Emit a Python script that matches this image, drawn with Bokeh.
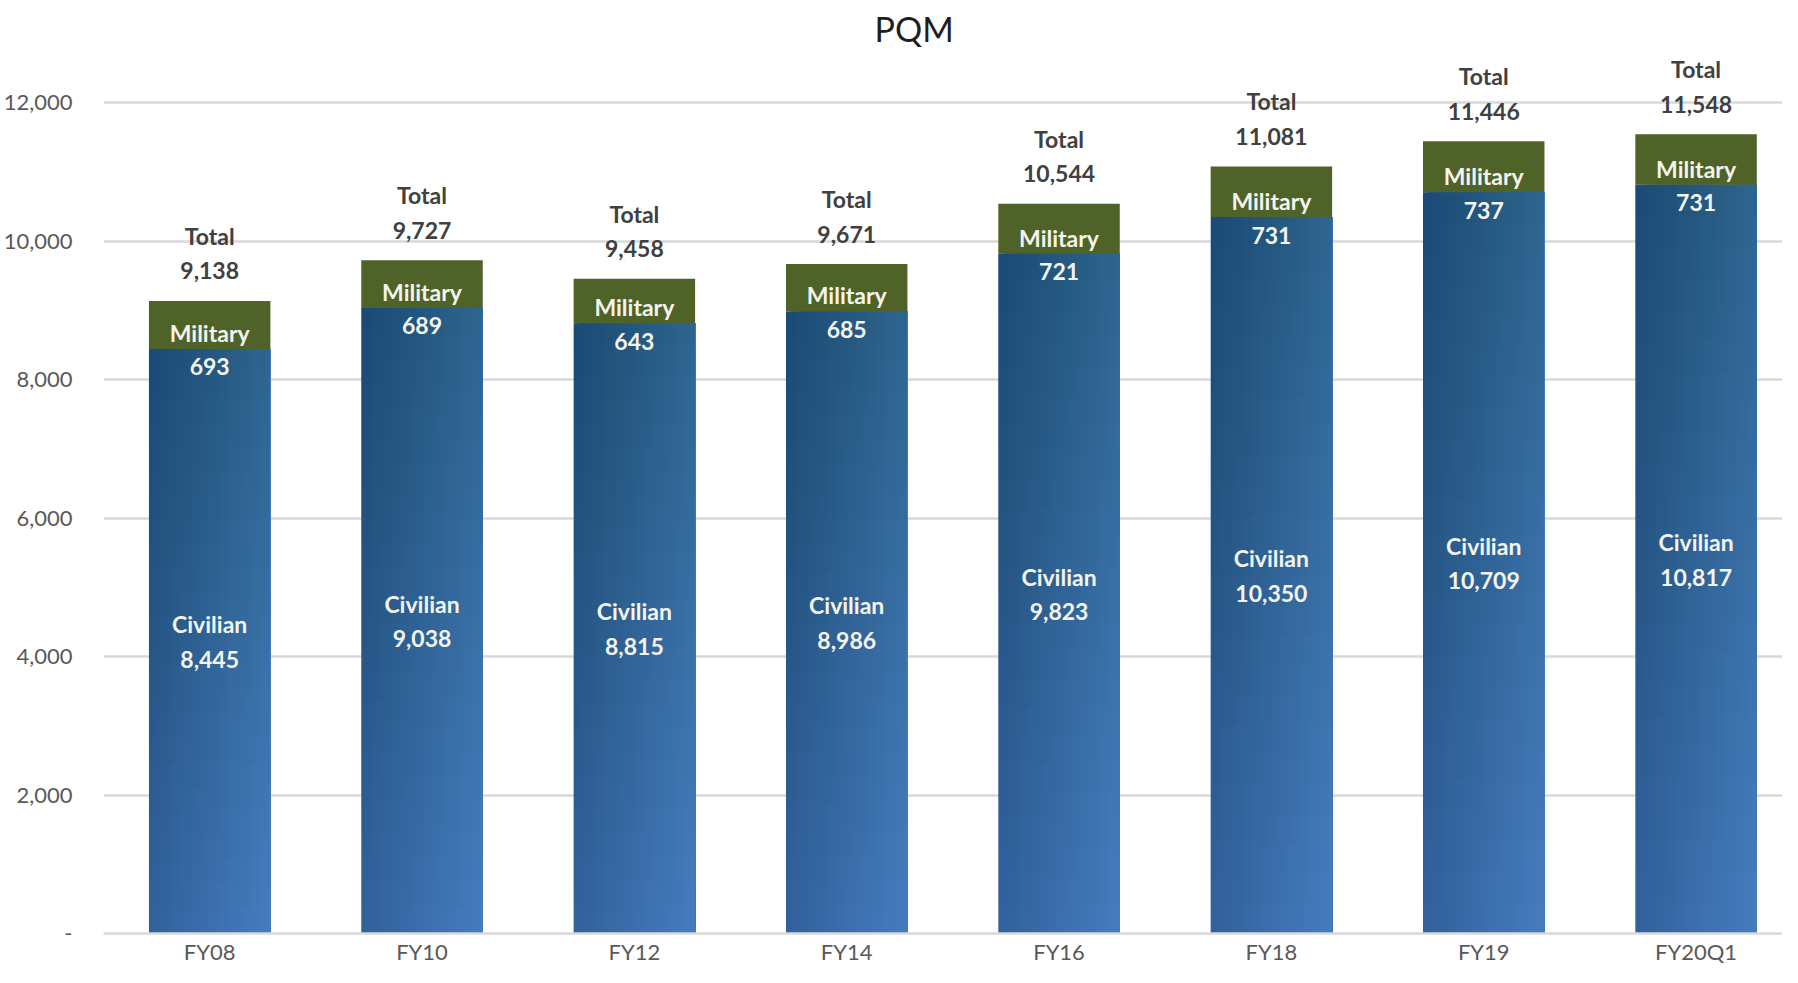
from bokeh.plotting import figure
from bokeh.models import ColumnDataSource, Range1d, FixedTicker
from bokeh.transform import dodge
from bokeh.core.properties import value
from bokeh.embed import file_html
from bokeh.resources import INLINE

# ---- data ----
categories = ["FY08", "FY10", "FY12", "FY14", "FY16", "FY18", "FY19", "FY20Q1"]
civilian = [8445, 9038, 8815, 8986, 9823, 10350, 10709, 10817]
military = [693, 689, 643, 685, 721, 731, 737, 731]
y_ticks = [0, 2000, 4000, 6000, 8000, 10000, 12000]
y_tick_labels = ["-", "2,000", "4,000", "6,000", "8,000", "10,000", "12,000"]

total = [c + m for c, m in zip(civilian, military)]
x = list(range(len(categories)))

FONT = value("Lato")
BAR_W = 0.572

src = ColumnDataSource(dict(
    x=x,
    civ=civilian,
    mil=military,
    tot=total,
    civ_mid=[c / 2 for c in civilian],
    civ_txt=[f"{c:,}" for c in civilian],
    mil_txt=[f"{m:,}" for m in military],
    tot_txt=[f"{t:,}" for t in total],
    civ_name=["Civilian"] * len(x),
    mil_name=["Military"] * len(x),
    tot_name=["Total"] * len(x),
))

p = figure(width=1782, height=967, output_backend="svg", toolbar_location=None,
           x_range=Range1d(-0.5, 7.407), y_range=Range1d(0, 12713),
           min_border_left=95, min_border_right=0, min_border_bottom=30,
           min_border_top=0)
p.outline_line_color = None
p.background_fill_color = "white"
p.border_fill_color = "white"

p.title.text = "PQM"
p.title.text_font = "Lato"
p.title.text_font_style = "normal"
p.title.text_font_size = "34px"
p.title.text_color = "#1e1e1e"
p.title.align = "left"
p.title.offset = 771

# civilian bars: left-to-right gradient from nested right-aligned strips
N = 40
c0 = (0x33, 0x62, 0x9e)
c1 = (0x46, 0x7d, 0xc0)
sw = BAR_W / N
for i in range(N):
    t = i / (N - 1)
    col = "#%02x%02x%02x" % tuple(int(round(a + (b - a) * t)) for a, b in zip(c0, c1))
    left = -BAR_W / 2 + i * sw
    right = BAR_W / 2
    p.vbar(x=dodge("x", (left + right) / 2), width=right - left, bottom=0, top="civ",
           source=src, fill_color=col, line_color=None)

# vertical darkening towards the top of the civilian segment (nested bands)
M = 24
for j in range(M):
    src_b = ColumnDataSource(dict(x=x, b=[c * j / M for c in civilian], t=civilian))
    p.vbar(x="x", width=BAR_W, bottom="b", top="t", source=src_b,
           fill_color="#0a1a33", fill_alpha=0.009, line_color=None)

p.vbar(x="x", width=BAR_W, bottom="civ", top="tot", source=src,
       fill_color="#4f6228", line_color=None)

lbl = dict(source=src, text_font=FONT, text_font_style="bold", text_font_size="23px",
           text_align="center", text_baseline="middle")
# civilian labels
p.text(x="x", y="civ_mid", text="civ_name", y_offset=-17, text_color="#f4f4ee", **lbl)
p.text(x="x", y="civ_mid", text="civ_txt", y_offset=18, text_color="#f4f4ee", **lbl)
# military labels
p.text(x="x", y="civ", text="mil_name", y_offset=-16, text_color="#f4f4ee", **lbl)
p.text(x="x", y="civ", text="mil_txt", y_offset=18, text_color="#f4f4ee", **lbl)
# total labels
p.text(x="x", y="tot", text="tot_name", y_offset=-65, text_color="#404040", **lbl)
p.text(x="x", y="tot", text="tot_txt", y_offset=-30, text_color="#404040", **lbl)

# axes
p.yaxis.ticker = FixedTicker(ticks=y_ticks)
p.yaxis.major_label_overrides = dict(zip(y_ticks, y_tick_labels))
p.yaxis.axis_line_color = None
p.yaxis.major_tick_line_color = None
p.yaxis.major_tick_out = 0
p.yaxis.major_tick_in = 0
p.yaxis.minor_tick_line_color = None
p.yaxis.major_label_standoff = 31
p.yaxis.major_label_text_font = "Lato"
p.yaxis.major_label_text_font_size = "22px"
p.yaxis.major_label_text_color = "#595959"

p.xaxis.ticker = FixedTicker(ticks=x)
p.xaxis.major_label_overrides = dict(zip(x, categories))
p.xaxis.axis_line_color = "#d9d9d9"
p.xaxis.axis_line_width = 2.5
p.xaxis.major_tick_line_color = None
p.xaxis.major_tick_out = 0
p.xaxis.major_tick_in = 0
p.xaxis.minor_tick_line_color = None
p.xaxis.major_label_standoff = 4
p.xaxis.major_label_text_font = "Lato"
p.xaxis.major_label_text_font_size = "22px"
p.xaxis.major_label_text_color = "#595959"

p.xgrid.grid_line_color = None
p.ygrid.grid_line_color = "#d9d9d9"
p.ygrid.grid_line_width = 2.5

open("out.html", "w").write(file_html(p, INLINE))
